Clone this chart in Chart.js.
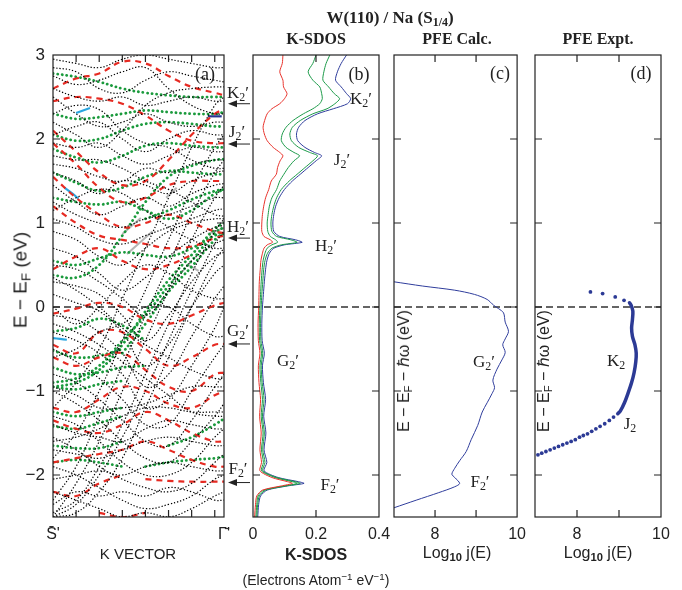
<!DOCTYPE html>
<html>
<head>
<meta charset="UTF-8"/>
<title>W(110) / Na (S1/4)</title>
<script src="https://cdn.jsdelivr.net/npm/chart.js@4.4.1/dist/chart.umd.min.js"></script>
<style>
body{margin:0;background:#fff;}
#wrap{position:relative;width:682px;height:590px;overflow:hidden;font-family:"Liberation Sans",Arial,sans-serif;color:#222;}
canvas{position:absolute;top:0;}
.t{position:absolute;transform:translate(-50%,-50%);white-space:nowrap;line-height:1;}
.serif{font-family:"Liberation Serif","Times New Roman",serif;}
.rot{transform:translate(-50%,-50%) rotate(-90deg);}
.lab{font-family:"Liberation Serif",serif;font-size:17px;}
sub{font-size:70%;vertical-align:-0.3em;line-height:0;}
sup{font-size:70%;vertical-align:0.5em;line-height:0;}
</style>
</head>
<body>
<div id="wrap">
<canvas id="ca" width="252" height="590" style="left:0px"></canvas>
<canvas id="cb" width="160" height="590" style="left:240px"></canvas>
<canvas id="cc" width="150" height="590" style="left:384px"></canvas>
<canvas id="cd" width="156" height="590" style="left:526px"></canvas>

<div class="t serif" style="left:390px;top:17px;font-size:17px;font-weight:bold">W(110) / Na (S<sub>1/4</sub>)</div>
<div class="t serif" style="left:316px;top:39px;font-size:16px;font-weight:bold">K-SDOS</div>
<div class="t serif" style="left:457px;top:39px;font-size:16px;font-weight:bold">PFE Calc.</div>
<div class="t serif" style="left:598px;top:39px;font-size:16px;font-weight:bold">PFE Expt.</div>

<div class="t lab" style="left:205px;top:74px;font-size:18px">(a)</div>
<div class="t lab" style="left:359px;top:74px;font-size:18px">(b)</div>
<div class="t lab" style="left:500px;top:73px;font-size:18px">(c)</div>
<div class="t lab" style="left:641px;top:73px;font-size:18px">(d)</div>

<div class="t rot" style="left:20px;top:280px;font-size:19px">E − E<sub>F</sub> (eV)</div>
<div class="t" style="left:138px;top:553px;font-size:15px">K VECTOR</div>
<div class="t" style="left:316px;top:555px;font-size:16px;font-weight:bold">K-SDOS</div>
<div class="t" style="left:316px;top:580px;font-size:14px">(Electrons Atom<sup>−1</sup> eV<sup>−1</sup>)</div>
<div class="t" style="left:457px;top:553px;font-size:16px">Log<sub style="font-weight:bold">10</sub> j(E)</div>
<div class="t" style="left:598px;top:553px;font-size:16px">Log<sub style="font-weight:bold">10</sub> j(E)</div>
<div class="t rot" style="left:404px;top:371px;font-size:16px">E − E<sub>F</sub> − ℏω (eV)</div>
<div class="t rot" style="left:544px;top:371px;font-size:16px">E − E<sub>F</sub> − ℏω (eV)</div>

<div class="t lab" style="left:238px;top:92px">K<sub>2</sub>′</div>
<div class="t lab" style="left:237px;top:131px">J<sub>2</sub>′</div>
<div class="t lab" style="left:238px;top:226px">H<sub>2</sub>′</div>
<div class="t lab" style="left:238px;top:330px">G<sub>2</sub>′</div>
<div class="t lab" style="left:238px;top:468px">F<sub>2</sub>′</div>

<div class="t lab" style="left:361px;top:98px">K<sub>2</sub>′</div>
<div class="t lab" style="left:342px;top:159px">J<sub>2</sub>′</div>
<div class="t lab" style="left:326px;top:245px">H<sub>2</sub>′</div>
<div class="t lab" style="left:288px;top:360px">G<sub>2</sub>′</div>
<div class="t lab" style="left:330px;top:484px">F<sub>2</sub>′</div>

<div class="t lab" style="left:484px;top:361px">G<sub>2</sub>′</div>
<div class="t lab" style="left:480px;top:481px">F<sub>2</sub>′</div>
<div class="t lab" style="left:616px;top:360px">K<sub>2</sub></div>
<div class="t lab" style="left:630px;top:423px">J<sub>2</sub></div>
</div>

<script>
// ---- panel (a): bands, energy (eV) at each K point ----
const bandK = [0, 0.1, 0.2, 0.3, 0.4, 0.5, 0.6, 0.7, 0.74];
const blackBands = [
  [2.95, 2.9, 2.85, 2.95, 3.0, 2.95, 2.9, 2.85, 2.85],
  [2.85, 2.8, 2.6, 2.55, 2.7, 2.8, 2.75, 2.7, 2.68],
  [2.6, 2.5, 2.45, 2.5, 2.4, 2.45, 2.5, 2.45, 2.45],
  [2.5, 2.3, 2.15, 2.2, 2.3, 2.2, 2.15, 2.2, 2.2],
  [2.05, 2.15, 2.2, 2.0, 1.85, 2.0, 2.1, 2.05, 2.05],
  [1.95, 1.9, 1.95, 1.8, 1.7, 1.8, 1.9, 1.85, 1.85],
  [1.7, 1.65, 1.55, 1.5, 1.65, 1.6, 1.7, 1.75, 1.75],
  [1.6, 1.5, 1.35, 1.5, 1.45, 1.35, 1.5, 1.6, 1.62],
  [1.45, 1.25, 1.1, 1.2, 1.3, 1.2, 1.35, 1.45, 1.47],
  [1.25, 1.1, 1.0, 0.95, 1.05, 1.1, 1.2, 1.3, 1.3],
  [1.05, 0.95, 0.8, 0.75, 0.85, 0.95, 1.05, 1.15, 1.17],
  [0.9, 0.8, 0.6, 0.5, 0.7, 0.9, 1.0, 1.05, 1.05],
  [0.7, 0.6, 0.4, 0.2, 0.35, 0.6, 0.8, 0.95, 0.97],
  [0.5, 0.45, 0.3, 0.1, -0.1, 0.2, 0.55, 0.75, 0.8],
  [0.3, 0.25, 0.15, -0.1, -0.4, -0.1, 0.3, 0.6, 0.65],
  [0.15, 0.05, -0.05, -0.3, -0.7, -0.45, 0.0, 0.4, 0.5],
  [-0.1, -0.15, -0.3, -0.55, -0.95, -0.8, -0.35, 0.1, 0.25],
  [-0.3, -0.4, -0.55, -0.8, -1.2, -1.1, -0.7, -0.25, 0.0],
  [-0.5, -0.65, -0.85, -1.1, -1.4, -1.4, -1.0, -0.6, -0.45],
  [-0.8, -0.9, -1.1, -1.35, -1.6, -1.65, -1.35, -0.95, -0.8],
  [-1.0, -1.15, -1.35, -1.6, -1.8, -1.85, -1.6, -1.3, -1.15],
  [-1.3, -1.4, -1.6, -1.85, -2.0, -2.0, -1.85, -1.55, -1.45],
  [-1.55, -1.7, -1.9, -2.05, -2.15, -2.2, -2.1, -1.85, -1.75],
  [-1.9, -2.0, -2.15, -2.3, -2.4, -2.35, -2.25, -2.05, -2.0],
  [-2.2, -2.3, -2.4, -2.5, -2.45, -2.5, -2.4, -2.25, -2.2],
  [-2.5, -2.1, -1.6, -1.0, -0.4, 0.2, 0.8, 1.3, 1.45],
  [-2.45, -2.3, -1.9, -1.4, -0.8, -0.2, 0.4, 0.9, 1.05],
  [-1.8, -1.5, -1.0, -0.4, 0.2, 0.8, 1.4, 1.9, 2.05],
  [-2.5, -2.45, -2.2, -1.8, -1.2, -0.6, 0.0, 0.55, 0.7],
  [-1.2, -0.9, -0.5, 0.1, 0.7, 1.3, 1.9, 2.4, 2.5],
  [-1.4, -1.5, -1.55, -1.6, -1.45, -1.35, -1.4, -1.45, -1.45],
  [-1.7, -1.75, -1.8, -1.7, -1.6, -1.55, -1.6, -1.65, -1.65],
  [-2.05, -2.0, -1.95, -2.0, -1.9, -1.85, -1.9, -1.95, -1.95],
  [2.75, 2.65, 2.7, 2.8, 2.85, 2.6, 2.4, 2.3, 2.3],
  [0.0, -0.2, 0.0, 0.3, 0.5, 0.4, 0.2, 0.1, 0.1],
  [-0.6, -0.5, -0.3, -0.2, 0.0, 0.0, -0.2, -0.35, -0.35],
  [1.15, 1.3, 1.4, 1.35, 1.15, 0.95, 0.8, 0.7, 0.7],
  [-2.3, -1.9, -1.3, -0.7, -0.1, 0.5, 1.1, 1.6, 1.75],
  [-2.5, -2.35, -2.0, -1.55, -1.0, -0.4, 0.2, 0.75, 0.9],
  [2.3, 2.4, 2.35, 2.1, 1.95, 1.9, 1.75, 1.65, 1.65],
  [1.8, 1.75, 1.75, 1.65, 1.5, 1.4, 1.25, 1.1, 1.08],
  [0.35, 0.2, 0.0, -0.25, -0.45, -0.6, -0.75, -0.85, -0.85],
  [-0.2, -0.3, -0.45, -0.65, -0.85, -1.05, -1.25, -1.3, -1.3],
  [-0.95, -1.05, -1.2, -1.2, -1.15, -1.05, -0.95, -0.95, -0.95],
  [-1.6, -1.55, -1.45, -1.3, -1.2, -1.2, -1.25, -1.25, -1.25],
  [-2.35, -2.2, -2.25, -2.2, -2.25, -2.15, -2.2, -2.3, -2.3],
  [2.2, 2.05, 1.9, 2.1, 2.4, 2.55, 2.6, 2.62, 2.62]
];
const greenBands = [
  [2.78, 2.74, 2.68, 2.6, 2.55, 2.52, 2.5, 2.5, 2.5],
  [2.3, 2.24, 2.26, 2.3, 2.34, 2.32, 2.3, 2.3, 2.32],
  [2.05, 1.98, 2.0, 2.1, 2.18, 2.2, 2.18, 2.15, 2.15],
  [1.88, 1.78, 1.72, 1.8, 1.92, 1.95, 1.92, 1.9, 1.9],
  [1.6, 1.48, 1.38, 1.42, 1.55, 1.62, 1.6, 1.58, 1.58],
  [0.38, 0.35, 0.5, 0.85, 1.25, 1.55, 1.68, 1.75, 1.76],
  [1.3, 1.25, 1.22, 1.25, 1.15, 1.05, 1.15, 1.35, 1.4],
  [-0.9, -0.85, -0.7, -0.4, -0.1, 0.25, 0.55, 0.88, 0.95],
  [-0.95, -0.9, -0.75, -0.45, -0.05, 0.32, 0.62, 0.93, 1.0],
  [null, null, null, -0.55, -0.2, 0.18, 0.48, 0.8, 0.88],
  [0.55, 0.5, 0.58, 0.65, 0.62, 0.6, 0.7, 0.85, 0.9],
  [-0.29, -0.25, -0.14, -0.22, -0.4, null, null, null, null],
  [-0.52, -0.6, -0.58, -0.5, null, null, null, null, null],
  [-0.72, -0.8, -0.78, -0.72, -0.7, null, null, null, null],
  [-0.95, -0.98, -0.92, -0.88, null, null, null, null, null],
  [-1.25, -1.3, -1.25, -1.2, null, null, null, null, null],
  [-1.42, -1.45, -1.38, -1.3, null, null, null, null, null],
  [-1.65, -1.68, -1.68, -1.6, null, null, null, null, null],
  [-1.85, -1.82, -1.85, -1.9, null, null, null, null, null],
  [null, null, null, null, null, -1.65, -1.55, -1.4, -1.33],
  [null, null, null, null, -1.9, -1.85, -1.82, -1.8, -1.78],
  [null, null, null, null, 1.05, 1.15, 1.28, 1.38, 1.4]
];
const redBands = [
  [2.6, 2.72, 2.78, 2.92, 2.9, 2.75, 2.62, 2.55, 2.52],
  [2.45, 2.5, 2.48, 2.42, 2.28, 2.1, 1.98, 1.95, 1.95],
  [2.1, 1.85, 1.6, 1.45, 1.5, 1.75, 2.05, 2.3, 2.35],
  [1.95, 1.7, 1.42, 1.25, 1.3, 1.45, 1.5, 1.5, 1.5],
  [1.55, 1.3, 1.1, 0.95, 1.0, 1.1, 1.0, 0.9, 0.88],
  [1.2, 1.0, 0.85, 0.8, 0.75, 0.7, 0.72, 0.82, 0.85],
  [0.45, 0.6, 0.7, 0.55, 0.45, 0.5, 0.62, null, null],
  [-0.08, -0.02, 0.05, 0.0, -0.15, -0.2, -0.1, 0.02, 0.05],
  [-0.45, -0.55, -0.3, -0.3, -0.5, -0.7, -0.6, -0.45, -0.44],
  [-0.6, -0.7, -0.6, -0.55, -0.75, -0.95, -1.0, -0.8, -0.78],
  [-1.2, -1.25, -1.1, -0.95, -1.0, -1.15, -1.2, -1.05, -1.0],
  [-1.35, -1.45, -1.5, -1.4, -1.25, -1.35, -1.5, -1.6, -1.6],
  [-1.85, -1.8, -1.75, -1.7, -1.6, -1.7, -1.82, -1.9, -1.9],
  [null, null, null, null, -2.05, -2.07, -2.08, -2.08, -2.08],
  [-2.2, -2.25, -2.1, -2.0, null, null, null, null, null],
  [null, null, -2.45, -2.5, -2.45, null, null, null, null]
];
// short solid pieces: [K, E]
const cyanSegs = [[[0.1, 2.31], [0.13, 2.34], [0.16, 2.37]], [[0.05, 1.42], [0.08, 1.36], [0.11, 1.29]], [[0, -0.37], [0.03, -0.38], [0.06, -0.39]]];
const blueSegs = [[[0.25, -0.55], [0.27, -0.53], [0.29, -0.5]], [[0.67, 2.27], [0.7, 2.27], [0.73, 2.27]]];
const graySegs = [[[0.49, 1.3], [0.535, 1.42]], [[0.3, 0.87], [0.38, 1.06]], [[0.32, 0.63], [0.43, 0.9]], [[0.58, 0.51], [0.63, 0.43]], [[0.67, 0.87], [0.74, 0.94]]];
const arrowE = [2.42, 1.94, 0.82, -0.44, -2.09];

// ---- panel (b): K-SDOS ----
const sdosE = [3.0, 2.9, 2.8, 2.7, 2.62, 2.54, 2.48, 2.42, 2.36, 2.3, 2.22, 2.14, 2.06, 1.98, 1.9, 1.84, 1.8, 1.74, 1.66, 1.58, 1.5, 1.4, 1.3, 1.2, 1.1, 1.0, 0.9, 0.84, 0.8, 0.77, 0.74, 0.7, 0.64, 0.55, 0.45, 0.3, 0.15,
  0, -0.2, -0.4, -0.55, -0.7, -0.9, -1.1, -1.3, -1.5, -1.7, -1.85, -1.95, -2.03, -2.08, -2.1, -2.13, -2.18, -2.25, -2.35, -2.5];
const sdosRed = [0.095, 0.093, 0.085, 0.095, 0.097, 0.108, 0.1, 0.085, 0.06, 0.045, 0.037, 0.032, 0.036, 0.045, 0.064, 0.085, 0.095, 0.086, 0.078, 0.074, 0.058, 0.05, 0.04, 0.034, 0.03, 0.028, 0.028, 0.035, 0.055, 0.062, 0.045, 0.035, 0.03, 0.025, 0.023, 0.02, 0.019,
  0.018, 0.016, 0.017, 0.022, 0.017, 0.019, 0.024, 0.021, 0.026, 0.022, 0.027, 0.022, 0.06, 0.11, 0.125, 0.09, 0.03, 0.012, 0.008, 0.005];
const sdosGreen1 = [0.2, 0.19, 0.175, 0.19, 0.212, 0.218, 0.22, 0.212, 0.19, 0.16, 0.127, 0.105, 0.093, 0.09, 0.105, 0.13, 0.148, 0.13, 0.112, 0.098, 0.085, 0.075, 0.06, 0.052, 0.048, 0.045, 0.047, 0.055, 0.072, 0.078, 0.06, 0.045, 0.038, 0.032, 0.029, 0.026, 0.024,
  0.022, 0.02, 0.021, 0.027, 0.022, 0.025, 0.03, 0.026, 0.032, 0.027, 0.033, 0.027, 0.07, 0.125, 0.14, 0.1, 0.035, 0.016, 0.012, 0.009];
const sdosGreen2 = [0.244, 0.232, 0.225, 0.222, 0.24, 0.258, 0.275, 0.26, 0.235, 0.19, 0.15, 0.125, 0.117, 0.122, 0.145, 0.18, 0.205, 0.19, 0.165, 0.14, 0.115, 0.09, 0.075, 0.066, 0.06, 0.057, 0.06, 0.075, 0.12, 0.14, 0.09, 0.06, 0.046, 0.038, 0.034, 0.031, 0.028,
  0.026, 0.024, 0.025, 0.031, 0.026, 0.029, 0.035, 0.03, 0.036, 0.031, 0.038, 0.031, 0.075, 0.135, 0.15, 0.105, 0.04, 0.02, 0.015, 0.012];
const sdosBlue = [0.297, 0.28, 0.268, 0.262, 0.28, 0.297, 0.31, 0.3, 0.255, 0.205, 0.165, 0.145, 0.138, 0.142, 0.165, 0.195, 0.218, 0.2, 0.175, 0.15, 0.125, 0.1, 0.083, 0.072, 0.066, 0.063, 0.066, 0.085, 0.135, 0.156, 0.1, 0.066, 0.052, 0.044, 0.04, 0.036, 0.033,
  0.03, 0.028, 0.029, 0.036, 0.03, 0.033, 0.04, 0.034, 0.041, 0.035, 0.044, 0.035, 0.08, 0.145, 0.162, 0.11, 0.045, 0.024, 0.018, 0.015];

// ---- panel (c): PFE calc ----
const calcE = [0.3, 0.25, 0.2, 0.15, 0.09, 0.02, -0.02, -0.07, -0.18, -0.29, -0.38, -0.45, -0.54, -0.63, -0.74, -0.87, -0.96, -1.03, -1.14, -1.25, -1.41, -1.58, -1.72, -1.83, -1.92, -1.99, -2.03, -2.1, -2.14, -2.21, -2.3, -2.39];
const calcJ = [7.0, 7.69, 8.48, 8.96, 9.27, 9.43, 9.55, 9.67, 9.71, 9.79, 9.71, 9.65, 9.71, 9.63, 9.51, 9.41, 9.45, 9.39, 9.27, 9.15, 9.04, 8.88, 8.76, 8.6, 8.48, 8.41, 8.48, 8.6, 8.48, 8.09, 7.54, 7.0];

// ---- panel (d): PFE expt ----
const exptDenseJ = [9.25, 9.29, 9.33, 9.32, 9.3, 9.32, 9.38, 9.41, 9.4, 9.36, 9.3, 9.22, 9.13, 9.03, 8.97];
const exptDenseE = [0.05, 0.02, -0.05, -0.15, -0.25, -0.35, -0.45, -0.55, -0.65, -0.78, -0.9, -1.02, -1.14, -1.24, -1.27];
const exptDotJ = [8.32, 8.61, 8.91, 9.12, 8.87, 8.77, 8.66, 8.55, 8.45, 8.35, 8.25, 8.15, 8.06, 7.96, 7.86, 7.76, 7.66, 7.56, 7.46, 7.36, 7.26, 7.16, 7.07];
const exptDotE = [0.18, 0.16, 0.12, 0.08, -1.31, -1.35, -1.39, -1.42, -1.45, -1.48, -1.51, -1.53, -1.55, -1.58, -1.6, -1.62, -1.64, -1.66, -1.68, -1.7, -1.72, -1.74, -1.76];

const eLabels = [-2, -1, 0, 1, 2, 3];
const eTicks = [-2, -1, 0, 1, 2];
const kTicks = [0.1, 0.2, 0.3, 0.4, 0.5, 0.6, 0.7];
const kLabels = [0, 0.74];
const sdosLabels = [0, 0.2, 0.4];
const logLabels = [8, 10];
const logTicks = [8, 9];

const sans = '"Liberation Sans", Arial, sans-serif';

// frame with inward ticks, plus the arrows of panel (a)
const frame = {
  id: 'frame',
  afterDatasetsDraw(chart, args, o) {
    const ctx = chart.ctx, a = chart.chartArea, sx = chart.scales.x, sy = chart.scales.y;
    ctx.save();
    ctx.strokeStyle = '#222';
    ctx.lineWidth = 1.2;
    ctx.strokeRect(a.left, a.top, a.right - a.left, a.bottom - a.top);
    ctx.beginPath();
    (o.y || []).forEach(v => {
      const y = sy.getPixelForValue(v);
      ctx.moveTo(a.left, y); ctx.lineTo(a.left + 7, y);
      ctx.moveTo(a.right, y); ctx.lineTo(a.right - 7, y);
    });
    (o.x || []).forEach(v => {
      const x = sx.getPixelForValue(v);
      ctx.moveTo(x, a.top); ctx.lineTo(x, a.top + 7);
      ctx.moveTo(x, a.bottom); ctx.lineTo(x, a.bottom - 7);
    });
    ctx.stroke();
    if (o.arrows) {
      ctx.fillStyle = '#222';
      ctx.lineWidth = 1;
      o.arrows.forEach(e => {
        const y = sy.getPixelForValue(e);
        ctx.beginPath(); ctx.moveTo(250, y); ctx.lineTo(234, y); ctx.stroke();
        ctx.beginPath(); ctx.moveTo(228, y); ctx.lineTo(237, y - 3.5); ctx.lineTo(237, y + 3.5); ctx.closePath(); ctx.fill();
      });
    }
    ctx.restore();
  }
};

function xAxis(min, max, labels, fmt) {
  return {
    type: 'linear', min: min, max: max,
    grid: {display: false, drawTicks: false}, border: {display: false},
    afterBuildTicks: s => { s.ticks = labels.map(v => ({value: v})); },
    afterFit: s => { s.height = 73; },
    ticks: {autoSkip: false, maxRotation: 0, padding: 8, color: '#222', font: {family: sans, size: 16}, callback: fmt}
  };
}
function yAxis(show) {
  return {
    type: 'linear', min: -2.5, max: 3, display: show,
    grid: {display: false, drawTicks: false}, border: {display: false},
    afterBuildTicks: s => { s.ticks = eLabels.map(v => ({value: v})); },
    afterFit: s => { s.width = show ? 53 : 0; },
    ticks: {padding: 8, color: '#222', font: {family: sans, size: 17},
      callback: v => v < 0 ? '\u2212' + Math.abs(v) : String(v)}
  };
}
function line(points, color, width, dash, extra) {
  return Object.assign({data: points, borderColor: color, borderWidth: width, borderDash: dash || [],
    showLine: true, pointRadius: 0, clip: 0, spanGaps: false}, extra || {});
}
function bandPts(es) { return es.map((e, i) => ({x: bandK[i], y: e})); }
function pairs(xs, ys) { return xs.map((v, i) => ({x: v, y: ys[i]})); }
function zeroLine(x0, x1) {
  return line([{x: x0, y: 0}, {x: x1, y: 0}], '#333', 1.3, [7, 4], {tension: 0});
}
function makePanel(id, datasets, x, showY, pad, frameOpts) {
  return new Chart(document.getElementById(id), {
    type: 'scatter',
    data: {datasets: datasets},
    options: {
      responsive: false, animation: false, events: [],
      layout: {padding: pad},
      plugins: {legend: {display: false}, tooltip: {enabled: false}, frame: frameOpts},
      scales: {x: x, y: yAxis(showY)}
    },
    plugins: [frame]
  });
}

// panel (a)
const setsA = [];
blackBands.forEach(b => setsA.push(line(bandPts(b), '#000', 1.2, [1.3, 1.9], {tension: 0.4})));
redBands.forEach(b => setsA.push(line(bandPts(b), '#e62a22', 2.2, [6, 5], {tension: 0.4})));
greenBands.forEach(b => setsA.push(line(bandPts(b), '#1a9a3c', 2.8, [0.1, 4.5], {tension: 0.4, borderCapStyle: 'round'})));
graySegs.forEach(s => setsA.push(line(s.map(p => ({x: p[0], y: p[1]})), '#b5b5b5', 2, [], {tension: 0})));
cyanSegs.forEach(s => setsA.push(line(s.map(p => ({x: p[0], y: p[1]})), '#2aa6e0', 2.2, [], {tension: 0.3})));
blueSegs.forEach(s => setsA.push(line(s.map(p => ({x: p[0], y: p[1]})), '#283592', 2.2, [], {tension: 0.3})));
setsA.push(zeroLine(0, 0.74));
makePanel('ca', setsA,
  xAxis(0, 0.74, kLabels, v => v === 0 ? 'S\u0304\'' : '\u0393\u0304\''),
  true, {left: 0, top: 55, right: 28, bottom: 0},
  {x: kTicks, y: eTicks, arrows: arrowE});

// panel (b)
makePanel('cb', [
  line(pairs(sdosRed, sdosE), '#e8312a', 1, [], {tension: 0.25}),
  line(pairs(sdosGreen1, sdosE), '#1b9a48', 1, [], {tension: 0.25}),
  line(pairs(sdosGreen2, sdosE), '#1b9a48', 1, [], {tension: 0.25}),
  line(pairs(sdosBlue, sdosE), '#2f3d9c', 1, [], {tension: 0.25}),
  zeroLine(0, 0.4)
], xAxis(0, 0.4, sdosLabels, v => v === 0 ? '0' : v.toFixed(1)),
  false, {left: 13, top: 55, right: 21, bottom: 0}, {x: [0.2], y: eTicks});

// panel (c)
makePanel('cc', [
  line(pairs(calcJ, calcE), '#2f3d9c', 1, [], {tension: 0.3}),
  zeroLine(7, 10)
], xAxis(7, 10, logLabels, v => String(v)),
  false, {left: 10, top: 55, right: 13, bottom: 0}, {x: logTicks, y: eTicks});

// panel (d)
makePanel('cd', [
  line(pairs(exptDenseJ, exptDenseE), '#2c3a95', 3.5, [], {tension: 0.3, borderCapStyle: 'round'}),
  line(pairs(exptDotJ, exptDotE), '#2c3a95', 0, [], {showLine: false, pointRadius: 1.9, pointBorderWidth: 0, pointBackgroundColor: '#2c3a95'}),
  zeroLine(7, 10)
], xAxis(7, 10, logLabels, v => String(v)),
  false, {left: 9, top: 55, right: 21, bottom: 0}, {x: logTicks, y: eTicks});
</script>
</body>
</html>
